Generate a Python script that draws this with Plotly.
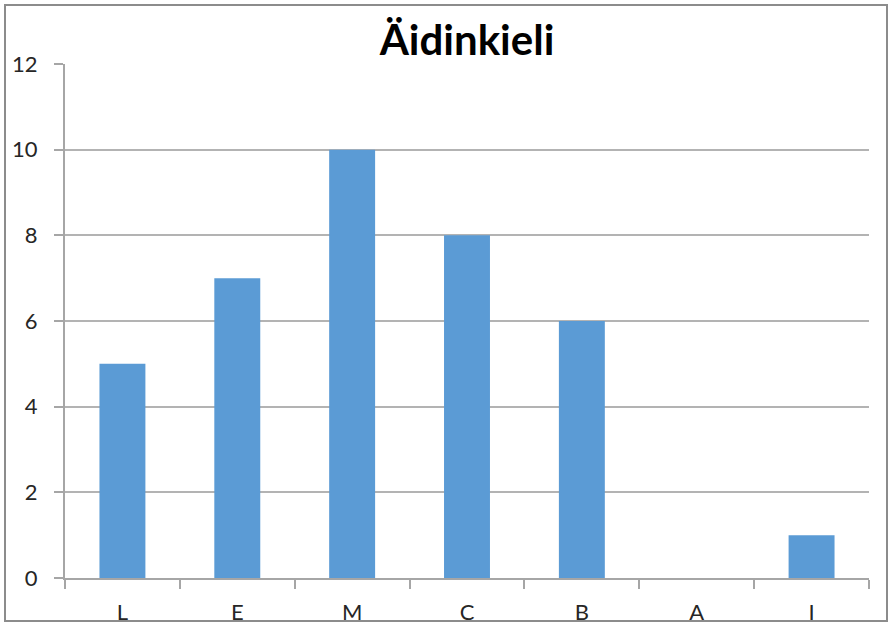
import plotly.graph_objects as go

categories = ["L", "E", "M", "C", "B", "A", "I"]
values = [5, 7, 10, 8, 6, 0, 1]
y_ticks = [0, 2, 4, 6, 8, 10, 12]
title_text = "Äidinkieli"

W, H = 889, 624
L, R, T, B = 65, 20, 64, 46
pw, ph = W - L - R, H - T - B

fig = go.Figure(go.Bar(x=categories, y=values, marker_color="#5B9BD5",
                       marker_line_width=0))

fig.update_layout(
    width=W, height=H,
    margin=dict(l=L, r=R, t=T, b=B, autoexpand=False),
    paper_bgcolor="white", plot_bgcolor="white",
    bargap=0.6,
    showlegend=False,
    font=dict(family="Lato", size=22, color="#262626"),
    title=dict(text="<b>" + title_text + "</b>", x=(467) / W, xanchor="center",
               y=1 - 40 / H, yanchor="middle",
               font=dict(family="Lato", size=42, color="black")),
)
fig.update_xaxes(type="category", tickson="boundaries", ticks="outside",
                 ticklen=9, tickcolor="#a6a6a6", tickwidth=2,
                 showline=True, linecolor="#a6a6a6", linewidth=2,
                 showgrid=False, ticklabelstandoff=14, automargin=False,
                 tickfont=dict(size=22, color="#262626"))
fig.update_yaxes(range=[0, 12], tickvals=y_ticks, ticks="outside",
                 ticklen=9, tickcolor="#a6a6a6", tickwidth=2,
                 showline=True, linecolor="#a6a6a6", linewidth=2,
                 showgrid=True, gridcolor="#b3b3b3", gridwidth=2,
                 zeroline=False, ticklabelstandoff=12, automargin=False,
                 tickfont=dict(size=22, color="#262626"))

fig.add_shape(type="rect", xref="paper", yref="paper",
              x0=(5 - L) / pw, x1=(887 - L) / pw,
              y0=-(621 - (H - B)) / ph, y1=1 + (T - 5) / ph,
              line=dict(color="#8c8c8c", width=2), layer="above")

fig.write_html("out.html", config={"displayModeBar": False},
               post_script="document.body.style.margin='0';document.body.style.overflow='hidden';")
